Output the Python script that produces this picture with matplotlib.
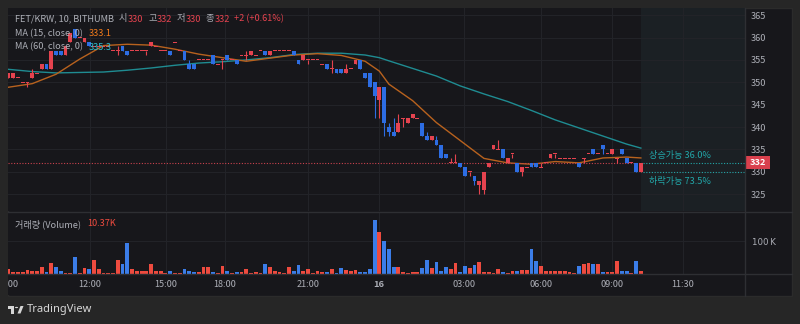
import matplotlib
matplotlib.use("Agg")
import numpy as np
import matplotlib.pyplot as plt
from matplotlib.patches import Rectangle, Circle, Polygon
from matplotlib.transforms import blended_transform_factory

plt.rcParams['font.family'] = ['Noto Sans CJK KR', 'DejaVu Sans']

W, H = 800, 324

# FET/KRW 10-minute candles on Bithumb, oldest first
opens = [351, 351, 351, 350, 350, 351, 352, 353, 354, 353, 357, 357, 356, 359, 362, 360, 359, 359, 358, 358,
         358, 358, 357, 357, 358, 357, 357, 357, 357, 357, 358, 358, 357, 357, 357, 359, 357, 357, 354, 354,
         355, 355, 355, 356, 354, 355, 356, 355, 355, 356, 356, 356, 356, 357, 357, 356, 357, 357, 357, 357,
         357, 355, 355, 355, 355, 355, 354, 354, 353, 353, 353, 352, 353, 354, 355, 352, 352, 350, 346, 349,
         340, 339, 339, 342, 341, 342, 342, 341, 338, 337, 337, 336, 334, 332, 332, 332, 331, 330, 329, 327,
         326, 331, 335, 335, 335, 332, 334, 332, 330, 331, 332, 332, 331, 332, 333, 334, 333, 333, 333, 333,
         332, 333, 334, 335, 334, 336, 334, 334, 333, 335, 333, 332, 332, 330]
highs = [352, 352, 351, 350, 350, 353, 352, 354, 354, 357, 357, 357, 358, 361, 362, 360, 360, 359, 358, 358,
         358, 358, 357, 358, 358, 357, 357, 357, 357, 357, 359, 358, 357, 357, 357, 359, 357, 357, 355, 354,
         355, 355, 355, 356, 354, 355, 356, 355, 355, 356, 357, 357, 356, 357, 357, 357, 357, 357, 357, 357,
         357, 355, 356, 355, 355, 355, 354, 354, 355, 353, 353, 354, 353, 355, 355, 352, 352, 350, 349, 349,
         341, 342, 343, 342, 342, 343, 342, 341, 339, 338, 338, 336, 334, 333, 334, 332, 331, 330, 329, 328,
         330, 332, 336, 337, 335, 333, 334, 332, 331, 331, 332, 332, 332, 332, 334, 334, 333, 333, 333, 333,
         332, 333, 334, 335, 334, 336, 334, 335, 333, 335, 333, 332, 332, 332]
lows = [351, 351, 351, 350, 349, 351, 352, 353, 353, 353, 356, 356, 356, 359, 360, 360, 359, 358, 358, 358,
        358, 358, 357, 356, 357, 356, 357, 357, 357, 356, 358, 358, 357, 357, 356, 359, 357, 355, 353, 353,
        355, 355, 355, 354, 354, 353, 355, 355, 354, 356, 355, 356, 356, 357, 356, 356, 357, 357, 357, 357,
        356, 354, 355, 354, 355, 355, 354, 353, 352, 352, 352, 352, 353, 354, 353, 351, 349, 342, 342, 338,
        338, 338, 339, 340, 341, 342, 342, 338, 337, 337, 336, 333, 333, 332, 332, 331, 329, 329, 327, 325,
        325, 331, 335, 335, 333, 332, 333, 330, 329, 331, 331, 331, 331, 332, 333, 333, 333, 333, 333, 333,
        331, 332, 334, 334, 334, 334, 334, 334, 332, 334, 332, 332, 330, 330]
closes = [352, 352, 351, 350, 350, 352, 352, 354, 353, 357, 356, 356, 358, 361, 360, 360, 360, 358, 358, 358,
          358, 358, 357, 357, 357, 356, 357, 357, 357, 357, 359, 358, 357, 357, 356, 359, 357, 355, 353, 353,
          355, 355, 355, 354, 354, 355, 355, 355, 354, 356, 356, 357, 356, 357, 356, 357, 357, 357, 357, 357,
          356, 354, 356, 355, 355, 355, 354, 353, 353, 352, 352, 353, 353, 355, 353, 351, 349, 347, 349, 341,
          339, 338, 341, 342, 342, 343, 342, 338, 337, 338, 336, 333, 333, 332, 332, 331, 329, 330, 328, 328,
          330, 332, 336, 335, 333, 333, 334, 330, 331, 331, 331, 331, 331, 332, 334, 334, 333, 333, 333, 333,
          331, 333, 334, 334, 334, 335, 334, 335, 333, 334, 332, 332, 330, 332]
# volume in thousands
volumes = [14, 7, 7, 5, 12, 9, 8, 20, 6, 34, 20, 8, 4, 4, 53, 4, 17, 14, 42, 14,
           4, 4, 4, 42, 29, 95, 15, 8, 8, 8, 29, 8, 8, 4, 8, 4, 4, 15, 8, 6,
           6, 21, 21, 6, 4, 24, 10, 4, 6, 6, 15, 4, 6, 4, 29, 20, 8, 6, 4, 21,
           8, 27, 10, 15, 4, 8, 6, 6, 15, 4, 17, 12, 10, 12, 6, 6, 15, 164, 127, 100,
           75, 22, 22, 7, 3, 6, 6, 19, 42, 19, 36, 9, 21, 14, 33, 6, 24, 17, 26, 36,
           6, 6, 4, 14, 6, 4, 8, 8, 11, 13, 76, 38, 24, 10, 9, 9, 8, 8, 7, 4,
           24, 31, 33, 31, 31, 6, 6, 6, 38, 8, 8, 4, 40, 10.37]

# moving averages sampled along the bars
ma_bars = [0, 5, 10, 15, 20, 25, 30, 35, 40, 45, 50, 55, 60, 65, 70, 75, 78, 80, 85, 90,
           95, 100, 105, 110, 115, 120, 125, 130, 133]
ma15 = [348.9, 349.7, 351.8, 355.2, 358.2, 358.5, 358.3, 357.4, 356.3, 355.5, 354.7, 355.4, 356.1, 356.4,
        356.0, 354.7, 352.5, 349.6, 345.9, 341.0, 337.0, 333.0, 332.0, 331.7, 332.3, 332.0, 333.1, 333.3, 333.1]
ma60 = [352.9, 352.4, 352.1, 352.2, 352.3, 352.7, 353.2, 353.8, 354.3, 354.6, 355.0, 355.5, 356.2, 356.5,
        356.5, 356.1, 355.5, 354.8, 353.1, 351.4, 349.2, 347.4, 345.7, 343.7, 341.6, 339.8, 338.0, 336.2, 335.3]

time_tick_bars = [-0.4, 17.1, 33.1, 45.5, 62.9, 77.9, 95.8, 112.0, 126.9, 141.8]
time_labels = ["09:00", "12:00", "15:00", "18:00", "21:00", "16", "03:00", "06:00", "09:00", "11:30"]
price_ticks = [325, 330, 335, 340, 345, 350, 355, 360, 365]
up_target, down_target = 332, 330
up_label = "상승가능 36.0%"
down_label = "하락가능 73.5%"

BG_OUT = '#262626'
BG = '#17171b'
FUTURE = '#1b2024'
GRID = '#222328'
SEP = '#2e2f33'
TXT = '#acaeb6'
UP = '#e5434f'
DOWN = '#2d6de3'
VUP = '#ee4b3f'
VDOWN = '#3b7de8'
MA15_C = '#b8621e'
MA60_C = '#1f8c92'
TEAL = '#22a7a9'
FS = 6.6

fig = plt.figure(figsize=(W / 100, H / 100), dpi=100, facecolor=BG_OUT)


def px_box(x0, y0, x1, y1):
    return [x0 / W, 1 - y1 / H, (x1 - x0) / W, (y1 - y0) / H]


# chart frame
frame = Rectangle((8 / W, 1 - 296 / H), 784 / W, 288 / H, transform=fig.transFigure,
                  facecolor=BG, edgecolor='#2b2b2b', lw=1, zorder=-5)
fig.patches.append(frame)

ax_p = fig.add_axes(px_box(8, 8, 745, 211))
ax_v = fig.add_axes(px_box(8, 213, 745, 274))
ax_t = fig.add_axes(px_box(8, 274, 745, 295))

n = len(closes)
idx = np.arange(n)
o = np.array(opens, float)
c = np.array(closes, float)
up = c >= o
xlim = (-0.1, 154.9)

for ax in (ax_p, ax_v, ax_t):
    ax.set_facecolor(BG)
    ax.set_xlim(*xlim)
    for s in ax.spines.values():
        s.set_visible(False)
    ax.tick_params(length=0)
    ax.set_xticks([])

# price pane
ax_p.set_ylim(321.25, 366.6)
ax_p.axvspan(n - 1, xlim[1], color=FUTURE, lw=0, zorder=0)
for p in price_ticks:
    ax_p.axhline(p, color=GRID, lw=0.8, zorder=1)
for b in time_tick_bars[1:]:
    ax_p.axvline(b, color=GRID, lw=0.8, zorder=1)
    ax_v.axvline(b, color=GRID, lw=0.8, zorder=1)

ccol = np.where(up, UP, DOWN)
ax_p.vlines(idx, lows, highs, colors=ccol, lw=0.8, zorder=3)
doji = c == o
body_h = np.where(doji, 0.22, np.abs(c - o))
body_lo = np.where(doji, o - 0.11, np.minimum(o, c))
ax_p.bar(idx, body_h, 0.8, bottom=body_lo, color=ccol, lw=0, zorder=4)

ax_p.plot(ma_bars, ma60, color=MA60_C, lw=1.0, zorder=2)
ax_p.plot(ma_bars, ma15, color=MA15_C, lw=1.0, zorder=2)

ax_p.hlines(closes[-1], xlim[0], n - 0.6, colors='#c9424e', lw=0.8, linestyles=(0, (1, 1.5)), zorder=2)
ax_p.hlines([up_target, down_target], n - 0.6, xlim[1], colors=TEAL, lw=0.8,
            linestyles=(0, (1, 1.5)), zorder=2)
ax_p.text(n + 0.8, up_target + 1.6, up_label, color=TEAL, fontsize=FS, va='center', ha='left')
ax_p.text(n + 0.8, down_target - 2.2, down_label, color=TEAL, fontsize=FS, va='center', ha='left')

ax_p.yaxis.tick_right()
ax_p.set_yticks(price_ticks)
ax_p.tick_params(axis='y', labelsize=FS, labelcolor=TXT, pad=4)

bt = blended_transform_factory(ax_p.transAxes, ax_p.transData)
ax_p.add_patch(Rectangle((1.0, closes[-1] - 1.45), 0.034, 2.9, transform=bt, facecolor='#d9404d',
                         lw=0, clip_on=False, zorder=6))
ax_p.text(1.017, closes[-1], f"{closes[-1]}", transform=bt, color='white', fontsize=FS,
          fontweight='bold', ha='center', va='center', zorder=7)

# volume pane
ax_v.set_ylim(0, 185)
ax_v.axhline(100, color=GRID, lw=0.8, zorder=1)
ax_v.bar(idx, volumes, 0.8, color=np.where(up, VUP, VDOWN), lw=0, zorder=3)
ax_v.yaxis.tick_right()
ax_v.set_yticks([100])
ax_v.set_yticklabels(["100\u2009K"])
ax_v.tick_params(axis='y', labelsize=FS, labelcolor=TXT, pad=5)
for lab in ax_v.get_yticklabels():
    lab.set_family(['DejaVu Sans'])
    lab.set_fontsize(6.2)

# time axis; the day change is shown in bold
ax_t.set_ylim(0, 1)
ax_t.set_yticks([])
for b, lab in zip(time_tick_bars, time_labels):
    ax_t.text(b, 0.5, lab, color=TXT, fontsize=FS, ha='center', va='center', clip_on=True,
              fontweight='bold' if ':' not in lab else 'normal')

# pane separators
for y in (212, 274):
    fig.add_artist(plt.Line2D([8 / W, 792 / W], [1 - y / H] * 2, color=SEP, lw=1))
fig.add_artist(plt.Line2D([745 / W] * 2, [1 - 8 / H, 1 - 296 / H], color=SEP, lw=1))

renderer = fig.canvas.get_renderer()


def text_run(x, y, parts):
    for s, col, gap in parts:
        t = fig.text(x / W, 1 - y / H, s, color=col, fontsize=FS, ha='left', va='center', zorder=10)
        x += t.get_window_extent(renderer).width + gap


chg = closes[-1] - closes[-2]
pct = chg / closes[-2] * 100
text_run(15, 19, [("FET/KRW, 10, BITHUMB", TXT, 5),
                  ("시", TXT, 0.5), (f"{opens[-1]}", UP, 5),
                  ("고", TXT, 0.5), (f"{highs[-1]}", UP, 4),
                  ("저", TXT, 0.5), (f"{lows[-1]}", UP, 5),
                  ("종", TXT, 0.5), (f"{closes[-1]}", UP, 4),
                  (f"{chg:+d} ({pct:+.2f}%)", UP, 0)])
text_run(15, 34, [("MA (15, close, 0)", TXT, 6), (f"{ma15[-1]:.1f}", '#f07b1c', 0)])
text_run(15, 47, [("MA (60, close, 0)", TXT, 6), (f"{ma60[-1]:.1f}", '#2fc0d0', 0)])
text_run(15, 224, [("거래량 (Volume)", TXT, 6), (f"{volumes[-1]:.2f}K", '#ef4b3f', 0)])

# TradingView mark
logo = [Rectangle((8 / W, 1 - 309 / H), 6 / W, 3 / H),
        Rectangle((11 / W, 1 - 313.5 / H), 3 / W, 7 / H),
        Circle((16.5 / W, 1 - 307.5 / H), 1.6 / W),
        Polygon([(17.5 / W, 1 - 313.5 / H), (20.5 / W, 1 - 306 / H), (23.5 / W, 1 - 306 / H),
                 (20.5 / W, 1 - 313.5 / H)])]
for pch in logo:
    pch.set_transform(fig.transFigure)
    pch.set_facecolor('#d6d6d6')
    pch.set_edgecolor('none')
    fig.patches.append(pch)
fig.text(27 / W, 1 - 309.5 / H, "TradingView", color='#d6d6d6', fontsize=8, fontweight='bold',
         ha='left', va='center', family=['Noto Sans', 'DejaVu Sans'])

fig.savefig("out.png", dpi=100, facecolor=BG_OUT)
